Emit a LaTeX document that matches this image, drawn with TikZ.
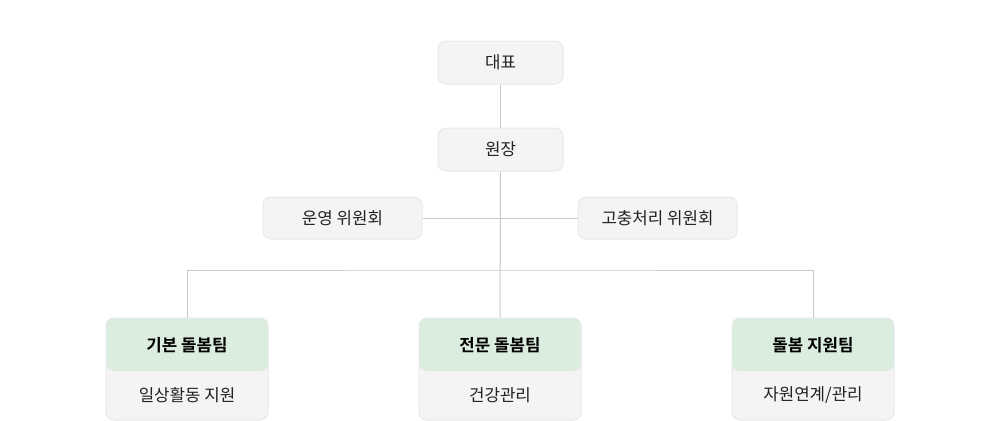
\documentclass[tikz,border=0pt]{standalone}
\usepackage{fontspec}
\setmainfont{Noto Sans CJK KR}[BoldFont={Noto Sans CJK KR Bold}]
\definecolor{boxgray}{HTML}{F4F4F4}
\definecolor{boxline}{HTML}{E8E8E8}
\definecolor{teamgreen}{HTML}{DBEDDF}
\definecolor{linkgray}{HTML}{C8C8C8}
\definecolor{inkgray}{HTML}{222222}
\begin{document}
\begin{tikzpicture}[x=0.75pt, y=-0.75pt,
    every node/.style={font=\fontsize{12.6}{15}\selectfont, text=inkgray},
    post/.style={draw=boxline, fill=boxgray, rounded corners=6pt, line width=0.75pt,
      minimum width=93.75pt, minimum height=32.25pt, inner sep=0pt},
    board/.style={post, minimum width=119.25pt, minimum height=31.5pt},
    card/.style={post, minimum width=121.5pt, minimum height=76.5pt,
      path picture={\fill[teamgreen] (path picture bounding box.north west)
        rectangle ([yshift=-39.75pt]path picture bounding box.north east);}},
    teamtitle/.style={font=\fontsize{12.6}{15}\selectfont\bfseries, text=black},
    link/.style={draw=linkgray, line width=0.75pt}]
  \useasboundingbox (0,0) rectangle (1000,421);

  \node[post] (chief) at (500.5,62.5) {대표};
  \node[post] (director) at (500.5,149.5) {원장};
  \node[board] (ops) at (342.5,218) {운영 위원회};
  \node[board] (grievance) at (657.5,218) {고충처리 위원회};

  \node[card] (basic) at (187,369) {};
  \node[card] (expert) at (500,369) {};
  \node[card] (support) at (813,369) {};
  \node[teamtitle] (basicT) at (187,345) {기본 돌봄팀};
  \node[teamtitle] (expertT) at (500,345) {전문 돌봄팀};
  \node[teamtitle] (supportT) at (813,345) {돌봄 지원팀};
  \node (basicJ) at (187,395.5) {일상활동 지원};
  \node (expertJ) at (500,395.5) {건강관리};
  \node (supportJ) at (813,395.5) {자원연계/관리};

  \coordinate (bar) at (500,270);

  \path[link] (chief) -- (director);
  \path[link] (director) -- (expert);
  \path[link] (ops) -- (grievance);
  \path[link] (basic.north) |- (bar) -| (support.north);
\end{tikzpicture}
\end{document}
